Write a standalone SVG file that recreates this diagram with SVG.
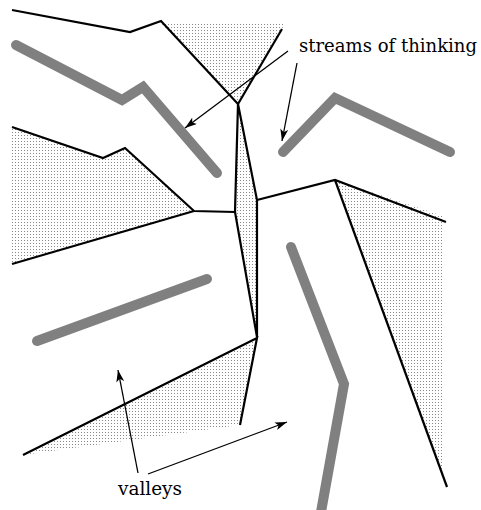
<svg xmlns="http://www.w3.org/2000/svg" width="481" height="510" viewBox="0 0 481 510">
<style>
.bg{fill:#fff}
.shade{fill:url(#dots);stroke:none}
.ridge{fill:none;stroke:#000;stroke-width:2.2;stroke-linejoin:miter}
.stream{fill:none;stroke:#808080;stroke-width:10;stroke-linecap:round;stroke-linejoin:miter}
.arrow{fill:none;stroke:#000;stroke-width:1.3;marker-end:url(#ah)}
</style>
<defs>
<pattern id="dots" width="3" height="3" patternUnits="userSpaceOnUse">
<rect x="0" y="0" width="1" height="1" fill="#888"/>
</pattern>
<marker id="ah" viewBox="0 0 12 8" refX="12" refY="4" markerWidth="12" markerHeight="8" markerUnits="userSpaceOnUse" orient="auto">
<path d="M0,0 L12,4 L0,8 L3,4 Z" fill="#000"/>
</marker>
</defs>
<rect class="bg" x="0" y="0" width="481" height="510"/>
<g id="shading">
<polygon class="shade" points="160,22 286,22 282,29 238,104"/>
<polygon class="shade" points="12,127 103,158 125,148 194,211 12,264"/>
<polygon class="shade" points="238,104 257,200 257,337 235,212"/>
<polygon class="shade" points="335,180 443,216 443,476"/>
<polygon class="shade" points="23,455 257,338 240,425"/>
</g>
<g id="streams">
<polyline id="stream1" class="stream" points="16,45 122,100 143,87 217,173"/>
<polyline id="stream2" class="stream" points="283,152 335,98 450,152"/>
<polyline id="stream3" class="stream" points="37,341 207,279"/>
<polyline id="stream4" class="stream" points="291,247 344,384 321,512"/>
</g>
<g id="ridges">
<polyline class="ridge" points="12,10 130,32 161,21 238,104"/>
<polyline class="ridge" points="282,29 238,104"/>
<polyline class="ridge" points="238,104 257,200 257,337 235,212 238,104"/>
<polyline class="ridge" points="12,127 103,158 125,148 194,211 235,212"/>
<polyline class="ridge" points="12,264 194,211"/>
<polyline class="ridge" points="257,200 335,180 446,222"/>
<polyline class="ridge" points="335,180 447,487"/>
<polyline class="ridge" points="23,455 257,338 240,425"/>
</g>
<g id="connectors">
<line class="arrow" x1="288" y1="51" x2="185" y2="128"/>
<line class="arrow" x1="297" y1="63" x2="282" y2="141"/>
<line class="arrow" x1="138" y1="473" x2="118" y2="370"/>
<line class="arrow" x1="148" y1="474" x2="287" y2="422"/>
</g>
<g id="labels" font-family="'DejaVu Serif', 'Liberation Serif', serif" font-size="18.5" fill="#000">
<text x="299" y="52" textLength="178" lengthAdjust="spacingAndGlyphs">streams of thinking</text>
<text x="118" y="495" textLength="64" lengthAdjust="spacingAndGlyphs">valleys</text>
</g>
</svg>
